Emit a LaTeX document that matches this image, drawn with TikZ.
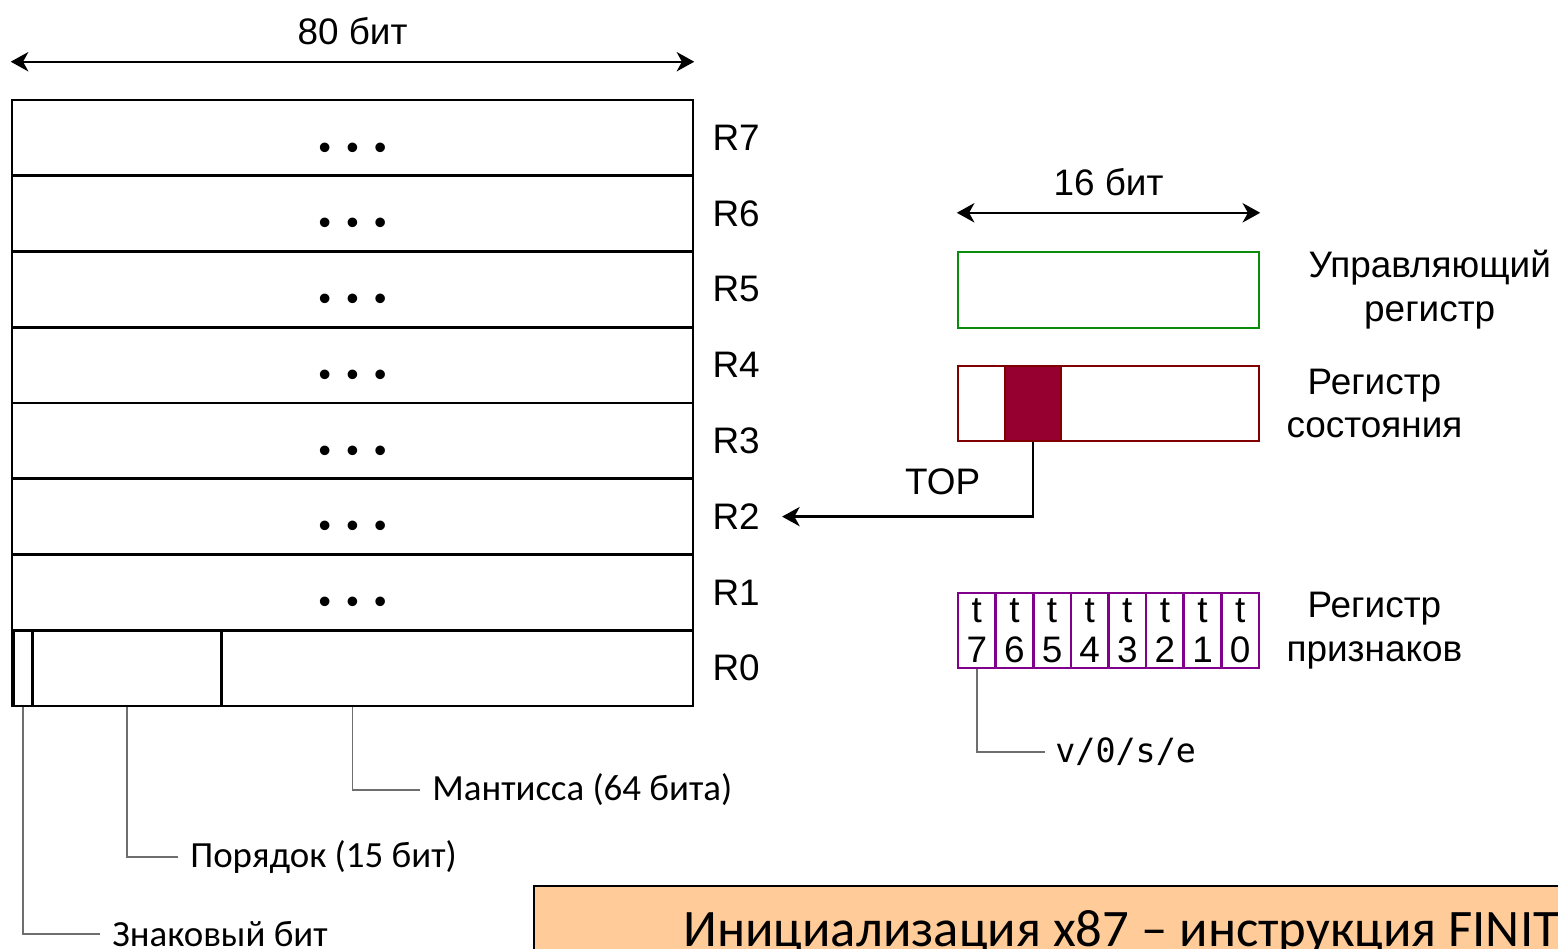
\documentclass[tikz,border=0pt]{standalone}
\usepackage{fontspec}
\setmainfont{Liberation Sans}
\newfontfamily\calibfont{Carlito}
\newfontfamily\codefont{DejaVu Sans Mono}
\usetikzlibrary{arrows.meta,positioning,calc}
\definecolor{ctrlgreen}{RGB}{10,140,10}
\definecolor{statred}{RGB}{128,0,0}
\definecolor{topfill}{RGB}{150,0,48}
\definecolor{tagpurple}{RGB}{128,0,140}
\definecolor{bannerfill}{RGB}{255,204,153}
\definecolor{calloutgray}{RGB}{110,110,110}
\newcommand{\rowdots}{\textbullet\hspace{0.31cm}\textbullet\hspace{0.31cm}\textbullet}

\begin{document}
\begin{tikzpicture}[x=0.02cm,y=-0.02cm,>={Stealth[length=10pt,width=11pt,inset=3pt]},
   font=\fontsize{21}{25}\selectfont,
   reg/.style={draw,line width=1.5pt,minimum width=13.62cm,minimum height=1.515cm,inner sep=0},
   dots/.style={font=\fontsize{20}{20}\selectfont,inner sep=0,anchor=base},
   rlab/.style={inner sep=0},
   dim/.style={<->,line width=1.3pt},
   conn/.style={->,line width=1.3pt},
   callout/.style={draw=calloutgray,line width=0.8pt},
   note/.style={font=\calibfont\fontsize{21}{25}\selectfont,inner sep=0.24cm},
   side/.style={align=center,inner sep=0},
   ctrl/.style={draw=ctrlgreen,line width=1.4pt,minimum width=6.02cm,minimum height=1.52cm,inner sep=0},
   stat/.style={draw=statred,line width=1.4pt,minimum width=6.02cm,minimum height=1.5cm,inner sep=0},
   topcell/.style={draw=statred,fill=topfill,line width=1.4pt,minimum width=1.12cm,minimum height=1.5cm,inner sep=0},
   tag/.style={draw=tagpurple,line width=1.4pt,minimum width=0.7525cm,minimum height=1.5cm,inner sep=0,align=center,
     font=\fontsize{21}{23}\selectfont},
   banner/.style={draw,line width=1.2pt,fill=bannerfill,minimum width=22cm,minimum height=2cm,inner sep=0}]
  \useasboundingbox (0,0) rectangle (1558,948);

  % FPU data registers
  \node[reg] (r7) at (352.5,137.9) {};
  \node[reg] (r6) at (352.5,213.6) {};
  \node[reg] (r5) at (352.5,289.4) {};
  \node[reg] (r4) at (352.5,365.1) {};
  \node[reg] (r3) at (352.5,440.9) {};
  \node[reg] (r2) at (352.5,516.6) {};
  \node[reg] (r1) at (352.5,592.4) {};
  \node[reg] (r0) at (352.5,668.1) {};
  \node[reg,minimum width=0.38cm,anchor=west] (sgn) at (12,668.1) {};
  \node[reg,minimum width=3.78cm,anchor=west] (expo) at (31,668.1) {};

  \node[dots] (d7) at (352.5,159) {\rowdots};
  \node[dots] (d6) at (352.5,234.7) {\rowdots};
  \node[dots] (d5) at (352.5,310.5) {\rowdots};
  \node[dots] (d4) at (352.5,386.2) {\rowdots};
  \node[dots] (d3) at (352.5,462) {\rowdots};
  \node[dots] (d2) at (352.5,537.7) {\rowdots};
  \node[dots] (d1) at (352.5,613.5) {\rowdots};

  \node[rlab,right=0.36cm of r7] (l7) {R7};
  \node[rlab,right=0.36cm of r6] (l6) {R6};
  \node[rlab,right=0.36cm of r5] (l5) {R5};
  \node[rlab,right=0.36cm of r4] (l4) {R4};
  \node[rlab,right=0.36cm of r3] (l3) {R3};
  \node[rlab,right=0.36cm of r2] (l2) {R2};
  \node[rlab,right=0.36cm of r1] (l1) {R1};
  \node[rlab,right=0.36cm of r0] (l0) {R0};

  \draw[dim] ([yshift=0.74cm]r7.north west) -- node[yshift=0.62cm] (w80) {80 бит} ([yshift=0.74cm]r7.north east);

  % fields of R0
  \node[note,anchor=west] (nsgn) at (100,934) {Знаковый бит};
  \node[note,anchor=west] (nexp) at (178,857) {Порядок (15 бит)};
  \node[note,anchor=west] (nman) at (420,790) {Мантисса (64 бита)};
  \draw[callout] (sgn.south) |- (nsgn.west);
  \draw[callout] (expo.south) |- (nexp.west);
  \draw[callout] (r0.south) |- (nman.west);

  % control and status words
  \node[ctrl] (cw) at (1108.5,290) {};
  \draw[dim] ([yshift=0.76cm]cw.north west) -- node[yshift=0.62cm] (w16) {16 бит} ([yshift=0.76cm]cw.north east);
  \node[side,right=0.96cm of cw] (lcw) {Управляющий\\регистр};

  \node[stat] (sw) at (1108.5,403.5) {};
  \node[topcell] (top) at (1033,403.5) {};
  \node[side,right=0.52cm of sw] (lsw) {Регистр\\состояния};
  \draw[conn] (top.south) |- node[pos=0.68,yshift=0.7cm] (wtop) {TOP} ([xshift=0.44cm]l2.east);

  % tag word
  \node[tag] (t7) at (976.8,630.5) {t\\7};
  \node[tag] (t6) at (1014.4,630.5) {t\\6};
  \node[tag] (t5) at (1052.1,630.5) {t\\5};
  \node[tag] (t4) at (1089.7,630.5) {t\\4};
  \node[tag] (t3) at (1127.3,630.5) {t\\3};
  \node[tag] (t2) at (1164.9,630.5) {t\\2};
  \node[tag] (t1) at (1202.6,630.5) {t\\1};
  \node[tag] (t0) at (1240.2,630.5) {t\\0};
  \node[side,right=0.52cm of t0] (ltag) {Регистр\\признаков};
  \node[anchor=west,inner sep=0.2cm,font=\codefont\fontsize{19}{22}\selectfont] (ntag) at (1045,752) {v/0/s/e};
  \draw[callout] (t7.south) |- (ntag.west);

  % banner
  \begin{scope}
    \clip (0,0) rectangle (1558,948);
    \node[banner,anchor=north west] (fin) at (533,885) {};
    \node[anchor=base west,inner sep=0,font=\calibfont\fontsize{30}{34}\selectfont] (finit) at (683,946) {Инициализация x87 – инструкция FINIT};
  \end{scope}
\end{tikzpicture}
\end{document}
